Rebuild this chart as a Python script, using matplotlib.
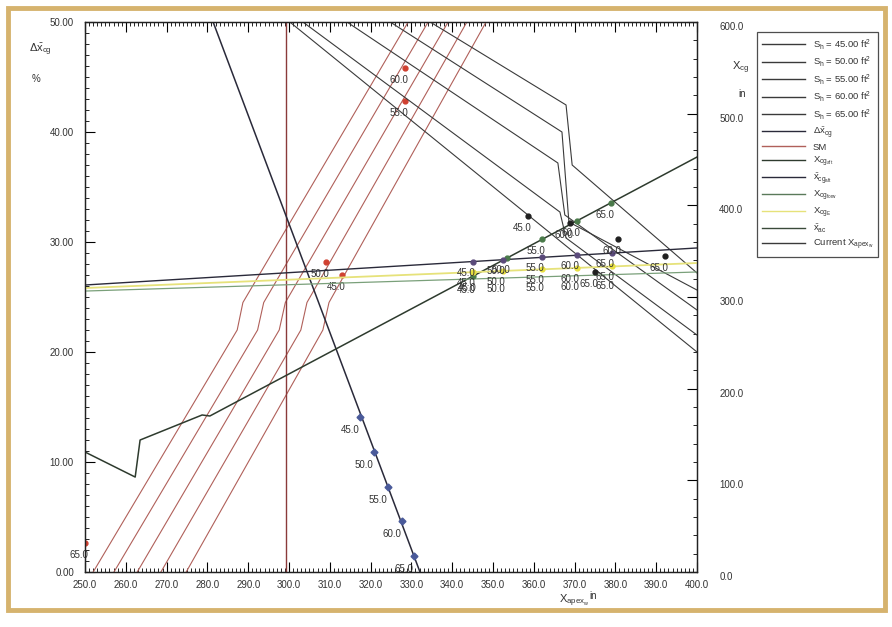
import matplotlib
matplotlib.use('Agg')
import matplotlib.pyplot as plt
from matplotlib.lines import Line2D
from matplotlib.patches import Rectangle
from matplotlib.ticker import MultipleLocator, FormatStrFormatter

plt.rcParams['font.family'] = ['Liberation Sans', 'DejaVu Sans']
plt.rcParams['mathtext.fontset'] = 'custom'
plt.rcParams['mathtext.rm'] = 'Liberation Sans'
plt.rcParams['mathtext.it'] = 'Liberation Sans'

# X_cg (in) against X_apex_w (in) for each tail area
sh_labels = ['45.0', '50.0', '55.0', '60.0', '65.0']
sh45_x = [300.2, 400.0]
sh45_y = [600.0, 240.0]
sh50_x = [303.4, 366.4, 367.9, 400.0]
sh50_y = [600.0, 392.7, 364.4, 258.5]
sh55_x = [314.2, 365.9, 367.6, 400.0]
sh55_y = [600.0, 446.2, 389.5, 285.8]
sh60_x = [324.8, 366.9, 368.6, 400.0]
sh60_y = [600.0, 480.0, 381.8, 307.6]
sh65_x = [334.6, 367.9, 369.4, 400.0]
sh65_y = [600.0, 509.5, 444.0, 326.2]
sh_mark_x = [358.6, 368.9, 380.6, 392.2, 375.0]
sh_mark_y = [388.4, 380.7, 363.3, 344.7, 327.3]
sh_mark_lab = ['45.0', '60.0', '60.0', '65.0', '65.0']

# delta x_cg (%) line with blue markers
dxcg_x = [281.4, 332.1]
dxcg_y = [50.0, 0.0]
dxcg_mark_x = [317.4, 320.8, 324.3, 327.7, 330.6]
dxcg_mark_y = [14.1, 10.9, 7.7, 4.6, 1.45]

# SM lines (%)
sm_y = [0.0, 22.0, 24.5, 50.0]
sm1_x = [252.0, 287.3, 288.7, 329.2]
sm2_x = [257.1, 292.3, 293.8, 334.1]
sm3_x = [262.8, 297.6, 299.1, 339.0]
sm4_x = [268.6, 302.9, 304.4, 343.6]
sm5_x = [274.8, 308.3, 309.8, 348.3]
sm_mark_x = [313.0, 309.1, 328.4, 328.4, 250.0]
sm_mark_y = [27.0, 28.2, 42.8, 45.8, 2.6]

current_apex = 299.3

# X_cg aft (in)
aft_x = [250.0, 262.3, 263.5, 278.7, 280.6, 400.0]
aft_y = [130.9, 103.6, 144.0, 171.3, 170.2, 452.7]
aft_mark_x = [345.1, 353.4, 362.0, 370.6, 378.9]
aft_mark_y = [322.9, 342.5, 362.8, 383.1, 402.9]

# near-horizontal lines (in)
flat_x = [250.0, 400.0]
xbar_aft_y = [313.1, 353.5]
xcg_e_y = [309.8, 337.1]
xac_y = [306.5, 327.3]
flat_mark_x = [345.1, 352.5, 362.0, 370.6, 379.2]
xbar_aft_mark = [338.7, 340.7, 343.2, 345.5, 347.9]
xcg_e_mark = [327.1, 328.5, 330.2, 331.7, 333.3]
xac_mark = [319.6, 320.7, 322.0, 323.2, 324.4]

legend_labels = [r'$S_h$ = 45.00 ft$^2$', r'$S_h$ = 50.00 ft$^2$', r'$S_h$ = 55.00 ft$^2$',
                 r'$S_h$ = 60.00 ft$^2$', r'$S_h$ = 65.00 ft$^2$', r'$\Delta\bar{x}_{cg}$', 'SM',
                 r'$X_{cg_{aft}}$', r'$\bar{x}_{cg_{aft}}$', r'$X_{cg_{forw}}$', r'$X_{cg_E}$',
                 r'$\bar{x}_{ac}$', r'Current $X_{apex_w}$']
legend_colors = ['#3a3a3a', '#3a3a3a', '#3a3a3a', '#3a3a3a', '#3a3a3a', '#2a2a3a', '#b0605a',
                 '#2e3b2e', '#2a2a3a', '#5a7a5a', '#e6e27a', '#3a4a3a', '#3a3a3a']

txt_col = '#333333'
fig = plt.figure(figsize=(8.92, 6.27), dpi=100)
fig.patches.append(Rectangle((0.009, 0.027), 0.983, 0.96, transform=fig.transFigure,
                             fill=False, edgecolor='#d6b36e', lw=3.5))

ax = fig.add_axes([0.0953, 0.0877, 0.6861, 0.8772])
ax2 = ax.twinx()

# left axis (%)
for sx in [sm1_x, sm2_x, sm3_x, sm4_x, sm5_x]:
    ax.plot(sx, sm_y, color='#b0605a', lw=0.8)
ax.axvline(current_apex, color='#8a3a3a', lw=1.0)
ax.plot(dxcg_x, dxcg_y, color='#2a2a3a', lw=1.1)
ax.plot(dxcg_mark_x, dxcg_mark_y, 'D', color='#4a5a9a', ms=3.5)
for x, y, lab in zip(dxcg_mark_x, dxcg_mark_y, sh_labels):
    ax.annotate(lab, (x, y), textcoords='offset pixels', xytext=(-10, -13),
                ha='center', va='center', fontsize=7, color=txt_col)
ax.plot(sm_mark_x, sm_mark_y, 'o', color='#d04030', ms=3.5)
for x, y, lab in zip(sm_mark_x, sm_mark_y, sh_labels):
    ax.annotate(lab, (x, y), textcoords='offset pixels', xytext=(-6, -12),
                ha='center', va='center', fontsize=7, color=txt_col)

# right axis (in)
for sx, sy in [(sh45_x, sh45_y), (sh50_x, sh50_y), (sh55_x, sh55_y), (sh60_x, sh60_y), (sh65_x, sh65_y)]:
    ax2.plot(sx, sy, color='#3a3a3a', lw=0.8)
ax2.plot(aft_x, aft_y, color='#2e3b2e', lw=1.1)
ax2.plot(flat_x, xac_y, color='#7aa07a', lw=0.9)
ax2.plot(flat_x, xcg_e_y, color='#e6e27a', lw=1.3)
ax2.plot(flat_x, xbar_aft_y, color='#2a2a3a', lw=1.0)

ax2.plot(aft_mark_x, aft_mark_y, 'o', color='#4a7a4a', ms=3.5)
for x, y, lab in zip(aft_mark_x, aft_mark_y, sh_labels):
    ax2.annotate(lab, (x, y), textcoords='offset pixels', xytext=(-6, -12),
                 ha='center', va='center', fontsize=7, color=txt_col)
ax2.plot(flat_mark_x, xbar_aft_mark, 'o', color='#5a4a7a', ms=3.5)
ax2.plot(flat_mark_x, xcg_e_mark, 'o', color='#e8e040', ms=3.5)
for marks in [xbar_aft_mark, xcg_e_mark, xac_mark]:
    for x, y, lab in zip(flat_mark_x, marks, sh_labels):
        ax2.annotate(lab, (x, y), textcoords='offset pixels', xytext=(-7, -11),
                     ha='center', va='center', fontsize=7, color=txt_col)
ax2.plot(sh_mark_x, sh_mark_y, 'o', color='#202020', ms=3.5)
for x, y, lab in zip(sh_mark_x, sh_mark_y, sh_mark_lab):
    ax2.annotate(lab, (x, y), textcoords='offset pixels', xytext=(-6, -12),
                 ha='center', va='center', fontsize=7, color=txt_col)

# axes and ticks
ax.set_xlim(250, 400)
ax.set_ylim(0, 50)
ax2.set_ylim(0, 600)
ax.xaxis.set_major_locator(MultipleLocator(10))
ax.xaxis.set_minor_locator(MultipleLocator(1))
ax.xaxis.set_major_formatter(FormatStrFormatter('%.1f'))
ax.yaxis.set_major_locator(MultipleLocator(10))
ax.yaxis.set_minor_locator(MultipleLocator(1))
ax.yaxis.set_major_formatter(FormatStrFormatter('%.2f'))
ax2.yaxis.set_major_locator(MultipleLocator(100))
ax2.yaxis.set_minor_locator(MultipleLocator(20))
ax2.yaxis.set_major_formatter(FormatStrFormatter('%.1f'))
ax.tick_params(axis='x', which='both', direction='in', top=True, labelsize=7,
               labelcolor=txt_col, pad=6)
ax.tick_params(axis='x', which='major', length=7, width=0.8)
ax.tick_params(axis='x', which='minor', length=3, width=0.6)
ax.tick_params(axis='y', which='both', direction='in', labelsize=7, labelcolor=txt_col, pad=8)
ax.tick_params(axis='y', which='major', length=7, width=0.8)
ax.tick_params(axis='y', which='minor', length=3, width=0.6)
ax2.tick_params(axis='y', which='both', direction='in', labelsize=7, labelcolor=txt_col, pad=16)
ax2.tick_params(axis='y', which='major', length=7, width=0.8)
ax2.tick_params(axis='y', which='minor', length=3, width=0.6)
for lbl in ax2.get_yticklabels():
    lbl.set_va('top')
for a in (ax, ax2):
    for sp in a.spines.values():
        sp.set_linewidth(0.9)
        sp.set_color('#222222')

# axis titles
fig.text(40 / 892, 1 - 50 / 627, r'$\Delta\bar{x}_{cg}$', fontsize=8, color=txt_col, ha='center', va='center')
fig.text(36 / 892, 1 - 79 / 627, '%', fontsize=7, color=txt_col, ha='center', va='center')
fig.text(741 / 892, 1 - 68 / 627, r'$X_{cg}$', fontsize=8, color=txt_col, ha='center', va='center')
fig.text(742 / 892, 1 - 94 / 627, 'in', fontsize=7, color=txt_col, ha='center', va='center')
fig.text(574 / 892, 1 - 601 / 627, r'$X_{apex_w}$', fontsize=8, color=txt_col, ha='center', va='center')
fig.text(593 / 892, 1 - 596 / 627, 'in', fontsize=7, color=txt_col, ha='center', va='center')

handles = [Line2D([], [], color=c, lw=1.0) for c in legend_colors]
leg = ax2.legend(handles, legend_labels, loc='upper left', bbox_to_anchor=(757 / 892, 1 - 32 / 627),
                 bbox_transform=fig.transFigure, fontsize=6.8, frameon=True, fancybox=False,
                 edgecolor='#222222', handlelength=4.6, labelspacing=0.3, borderpad=0.5,
                 handletextpad=0.8, borderaxespad=0)
leg.get_frame().set_linewidth(0.9)
for t in leg.get_texts():
    t.set_color(txt_col)

fig.savefig('out.png', dpi=100)
